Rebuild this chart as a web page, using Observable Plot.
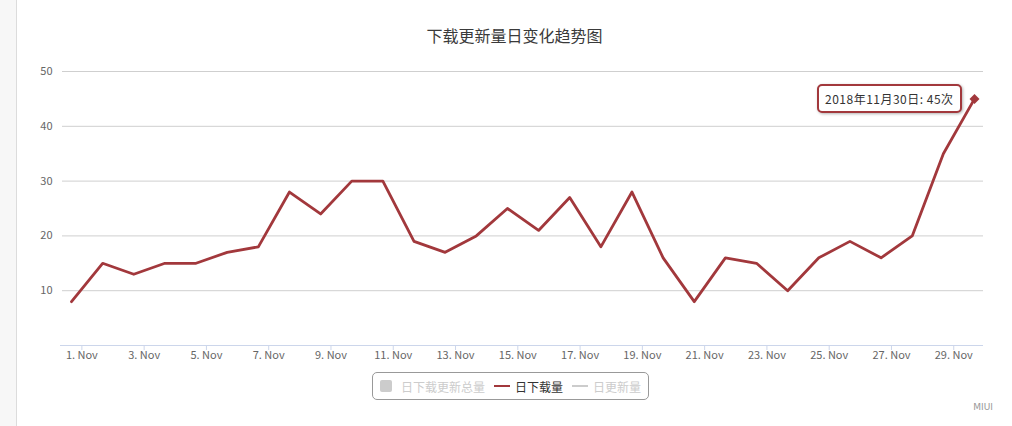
<!DOCTYPE html>
<html><head><meta charset="utf-8">
<script src="https://cdn.jsdelivr.net/npm/d3@7"></script>
<script src="https://cdn.jsdelivr.net/npm/@observablehq/plot@0.6"></script>
<style>
body{margin:0;background:#fff;font-family:"Noto Sans CJK SC","Noto Sans",sans-serif;}
#wrap{position:relative;width:1012px;height:426px;overflow:hidden;background:#fff;}
#strip{position:absolute;left:0;top:0;width:16px;height:426px;background:#f7f7f7;border-right:1px solid #dcdcdc;}
#title{position:absolute;left:17px;right:0;top:24px;text-align:center;font-size:16px;line-height:22px;color:#3a3a3a;}
#chart{position:absolute;left:0;top:0;}
#tip{position:absolute;box-sizing:border-box;height:29px;padding:0 6px;border:2px solid #a2383c;border-radius:5px;background:#fff;box-shadow:1px 1px 3px rgba(0,0,0,0.3);font-size:12px;letter-spacing:0.5px;line-height:25px;color:#333;white-space:nowrap;}
#legend{position:absolute;left:372px;top:372px;box-sizing:border-box;height:28px;padding:0 7px;border:1px solid #999;border-radius:5px;display:flex;align-items:center;font-size:12px;white-space:nowrap;}
#legend .sw{display:inline-block;}
#credit{position:absolute;right:19px;top:402px;font-size:9px;color:#999;font-family:"DejaVu Sans",sans-serif;}
</style></head>
<body>
<div id="wrap">
  <div id="strip"></div>
  <div id="chart"></div>
  <div id="title"></div>
  <div id="legend"></div>
  <div id="credit">MIUI</div>
</div>
<script>
const titleText = "下载更新量日变化趋势图";
const dates = ["2018-11-01","2018-11-02","2018-11-03","2018-11-04","2018-11-05","2018-11-06","2018-11-07","2018-11-08","2018-11-09","2018-11-10",
               "2018-11-11","2018-11-12","2018-11-13","2018-11-14","2018-11-15","2018-11-16","2018-11-17","2018-11-18","2018-11-19","2018-11-20",
               "2018-11-21","2018-11-22","2018-11-23","2018-11-24","2018-11-25","2018-11-26","2018-11-27","2018-11-28","2018-11-29","2018-11-30"];
const downloads = [8,15,13,15,15,17,18,28,24,30,30,19,17,20,25,21,27,18,28,16,8,16,15,10,16,19,16,20,35,45];
const xTickDays = ["2018-11-01","2018-11-03","2018-11-05","2018-11-07","2018-11-09","2018-11-11","2018-11-13","2018-11-15","2018-11-17","2018-11-19","2018-11-21","2018-11-23","2018-11-25","2018-11-27","2018-11-29"];
const yTicks = [10,20,30,40,50];
const legendNames = ["日下载更新总量","日下载量","日更新量"];
const legendActive = [false,true,false];
const lineColor = "#a2383c";

const data = dates.map((d,i) => ({date: new Date(d + "T00:00:00+08:00"), value: downloads[i]}));
const tickDates = xTickDays.map(d => new Date(d + "T00:00:00Z"));
const last = data[data.length-1];

document.getElementById("title").textContent = titleText;

const chart = Plot.plot({
  width: 1012, height: 370,
  marginTop: 71, marginBottom: 25, marginLeft: 62, marginRight: 29,
  style: {fontFamily: '"Noto Sans CJK SC","Noto Sans",sans-serif', fontSize: "11px", background: "transparent"},
  x: {type: "utc", domain: d3.extent(data, d => d.date), inset: 9},
  y: {domain: [0, 50]},
  marks: [
    Plot.gridY(yTicks, {stroke: "#cfcfcf", strokeOpacity: 1}),
    Plot.ruleY([0], {stroke: "#ccd6eb", insetLeft: -2}),
    Plot.axisY(yTicks, {tickSize: 0, tickPadding: 10, fill: "#666", label: null, fontSize: 11}),
    Plot.axisX(tickDates, {tickSize: 5, tickPadding: 1, stroke: "#ccd6eb", fill: "#666", label: null, fontSize: 11,
      tickFormat: d => `${d.getUTCDate()}. Nov`}),
    Plot.line(data, {x: "date", y: "value", stroke: lineColor, strokeWidth: 2.8, strokeLinejoin: "round"}),
    Plot.dot([last], {x: "date", y: "value", symbol: "diamond2", r: 4.5, fill: lineColor, stroke: "none"})
  ]
});
document.getElementById("chart").appendChild(chart);

// tooltip anchored to last point via scales
const px = chart.scale("x").apply(last.date);
const py = chart.scale("y").apply(last.value);
const tip = document.createElement("div");
tip.id = "tip";
const dl = new Date(dates[dates.length-1] + "T00:00:00Z");
tip.textContent = `${dl.getUTCFullYear()}年${dl.getUTCMonth()+1}月${dl.getUTCDate()}日: ${last.value}次`;
document.getElementById("wrap").appendChild(tip);
const tw = tip.offsetWidth;
tip.style.left = (px - 12 - tw) + "px";
tip.style.top = (py - 14.5) + "px";

// legend
const lg = document.getElementById("legend");
legendNames.forEach((name, i) => {
  const sw = document.createElement("span");
  sw.className = "sw";
  if (i === 0) {
    sw.style.cssText = "width:12px;height:12px;border-radius:2px;background:#ccc;margin-right:9px;";
  } else {
    sw.style.cssText = `width:16px;height:2px;background:${legendActive[i] ? lineColor : "#ccc"};margin-right:5px;margin-left:9px;`;
  }
  const t = document.createElement("span");
  t.textContent = name;
  t.style.color = legendActive[i] ? "#333" : "#ccc";
  lg.appendChild(sw); lg.appendChild(t);
});
</script>
</body></html>
